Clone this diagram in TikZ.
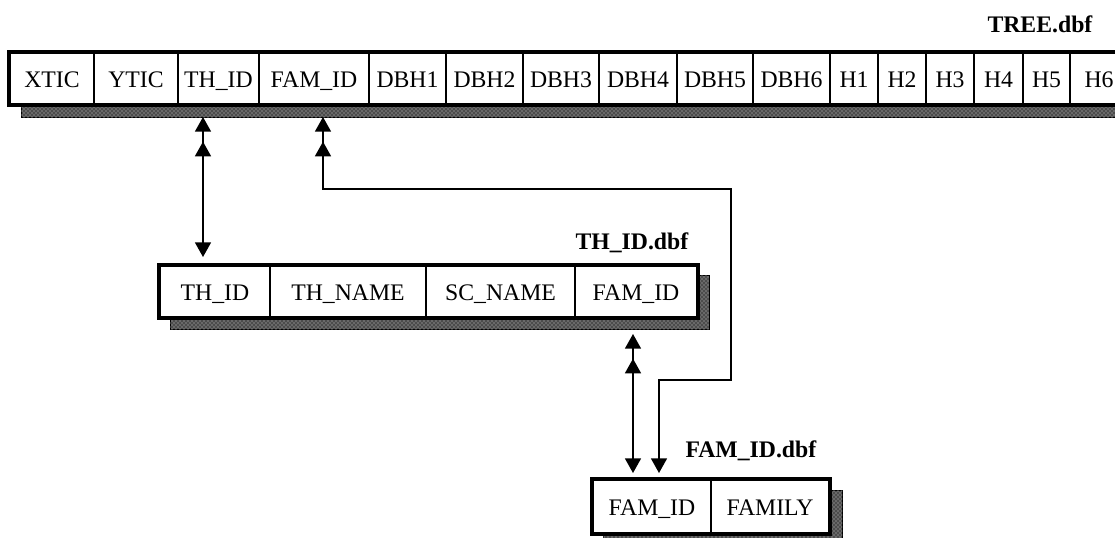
\documentclass[tikz,border=0pt]{standalone}
\usepackage{fontspec}
\setmainfont{Liberation Serif}
\usetikzlibrary{arrows.meta,calc,patterns,backgrounds}

\tikzset{every picture/.style={line width=0.75pt}}
\tikzset{
  fld/.style={draw, rectangle, line width=1.5pt, fill=white, inner sep=0pt, anchor=north west,
    minimum height=#1*0.75pt, text height=16pt, text depth=2.5pt, font=\fontsize{17.8}{20}\selectfont},
  tblframe/.style={draw, line width=2.4pt},
  tblshadow/.style={draw=black, line width=0.75pt, fill=black!70,
    postaction={pattern=crosshatch dots, pattern color=white!80!black}},
  tbltitle/.style={font=\fontsize{17.8}{20}\selectfont\bfseries, inner sep=0pt, anchor=base west},
  link/.style={line width=1.2pt,
    {Triangle[width=12pt,length=11pt]Triangle[width=12pt,length=11pt,sep=7.5pt]}-{Triangle[width=12pt,length=11pt]}},
}

\begin{document}
\begin{tikzpicture}[x=0.75pt,y=0.75pt,yscale=-1,xscale=1]
\useasboundingbox (0,0) rectangle (1115,537);
\clip (0,0) rectangle (1115,537);

%Table: TREE.dbf
\foreach \nm/\txt/\l/\w in {xtic/XTIC/9/84, ytic/YTIC/93/84, tthid/TH\_ID/177/81, tfamid/FAM\_ID/258/110,
    dbh1/DBH1/368/77, dbh2/DBH2/445/77, dbh3/DBH3/522/76, dbh4/DBH4/598/78, dbh5/DBH5/676/76, dbh6/DBH6/752/77,
    h1/H1/829/48, h2/H2/877/48, h3/H3/925/48, h4/H4/973/49, h5/H5/1022/47, h6/H6/1069/58}
  \node[fld=51, minimum width=\w*0.75pt] (\nm) at (\l,52) {\txt};
\draw[tblframe] (xtic.north west) rectangle (h6.south east);

%Table: TH_ID.dbf
\foreach \nm/\txt/\l/\w in {ththid/TH\_ID/159/110, thname/TH\_NAME/269/156, scname/SC\_NAME/425/149, thfamid/FAM\_ID/574/122}
  \node[fld=51, minimum width=\w*0.75pt] (\nm) at (\l,265) {\txt};
\draw[tblframe] (ththid.north west) rectangle (thfamid.south east);

%Table: FAM_ID.dbf
\foreach \nm/\txt/\l/\w in {ffamid/FAM\_ID/592/118, family/FAMILY/710/118}
  \node[fld=53, minimum width=\w*0.75pt] (\nm) at (\l,479) {\txt};
\draw[tblframe] (ffamid.north west) rectangle (family.south east);

%Shadows
\begin{scope}[on background layer]
  \clip (0,0) rectangle (1115,537);
  \draw[tblshadow] ($(xtic.north west)+(12,12)$) rectangle ($(h6.south east)+(12,12)$);
  \draw[tblshadow] ($(ththid.north west)+(11,10)$) rectangle ($(thfamid.south east)+(11,11)$);
  \draw[tblshadow] ($(ffamid.north west)+(11,11)$) rectangle ($(family.south east)+(12,11)$);
\end{scope}

% Text Node
\node[tbltitle] (treelbl) at (987,32.5) {TREE.dbf};
% Text Node
\node[tbltitle] (thlbl) at (575,249) {TH\_ID.dbf};
% Text Node
\node[tbltitle] (famlbl) at (685,457) {FAM\_ID.dbf};

%Links
\draw[link] ($(tthid.south)+(-15.5,12)$) -- ($(ththid.north)+(-12,-8)$);
\draw[link] ($(tfamid.south)+(9,12)$) -- ++(0,72) -- ++(408,0) -- ++(0,191) -- ++(-72,0) -- ($(ffamid.north)+(7,-6)$);
\draw[link] ($(thfamid.south)+(-3,16)$) -- ($(ffamid.north)+(-19,-6)$);

\end{tikzpicture}
\end{document}
